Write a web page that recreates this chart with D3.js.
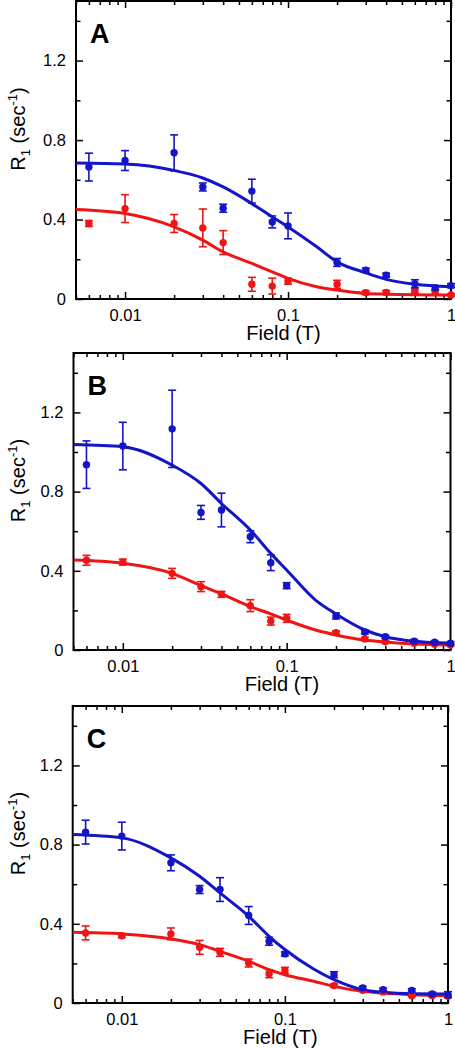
<!DOCTYPE html>
<html><head><meta charset="utf-8">
<script src="https://cdn.jsdelivr.net/npm/d3@7"></script>
<style>body{margin:0;background:#fff} text{font-family:"Liberation Sans",Arial,sans-serif}</style>
</head><body><svg id="c" width="455" height="1050"></svg>
<script>
// ---------------- data ----------------
const fields = [0.006,0.01,0.02,0.03,0.04,0.06,0.08,0.1,0.2,0.3,0.4,0.6,0.8,1];
const panelLabels = ["A","B","C"];

const blueA    = [0.664,0.697,0.736,0.564,0.457,0.543,0.388,0.368,0.184,0.145,0.12,0.077,0.057,0.067];
const blueAErr = [0.07,0.05,0.09,0.02,0.02,0.06,0.03,0.065,0.02,0.01,0.01,0.02,0.01,0.01];
const redA     = [0.38,0.455,0.38,0.358,0.284,0.074,0.065,0.09,0.074,0.032,0.033,0.04,0.033,0.02];
const redAErr  = [0.015,0.07,0.045,0.095,0.06,0.035,0.04,0.015,0.02,0.01,0.01,0.01,0.01,0.005];

const blueB    = [0.936,1.03,1.117,0.695,0.707,0.572,0.441,0.325,0.172,0.091,0.067,0.045,0.039,0.034];
const blueBErr = [0.12,0.12,0.195,0.035,0.085,0.03,0.04,0.015,0.015,0.01,0.008,0.008,0.008,0.008];
const redB     = [0.453,0.444,0.387,0.32,0.281,0.224,0.146,0.16,0.088,0.056,0.042,0.034,0.029,0.025];
const redBErr  = [0.025,0.015,0.025,0.025,0.015,0.03,0.02,0.02,0.008,0.008,0.005,0.005,0.005,0.005];

const blueC    = [0.863,0.843,0.708,0.573,0.573,0.442,0.312,0.248,0.143,0.076,0.067,0.064,0.046,0.042];
const blueCErr = [0.06,0.07,0.04,0.02,0.06,0.045,0.02,0.01,0.015,0.008,0.008,0.008,0.008,0.015];
const redC     = [0.354,0.34,0.349,0.281,0.256,0.202,0.148,0.165,0.088,0.064,0.056,0.037,0.037,0.034];
const redCErr  = [0.035,0.01,0.03,0.035,0.02,0.02,0.02,0.015,0.008,0.005,0.005,0.005,0.005,0.005];

// fitted curves
const fitX     = [0.005,0.01,0.02,0.03,0.04,0.06,0.08,0.1,0.15,0.2,0.3,0.4,0.6,1];
const fitBlueA = [0.684,0.679,0.647,0.609,0.564,0.48,0.413,0.363,0.263,0.187,0.132,0.099,0.074,0.062];
const fitRedA  = [0.45,0.43,0.363,0.296,0.237,0.179,0.137,0.104,0.062,0.045,0.028,0.024,0.021,0.02];
const fitBlueB = [1.038,1.027,0.934,0.841,0.74,0.606,0.488,0.404,0.252,0.182,0.101,0.067,0.044,0.034];
const fitRedB  = [0.454,0.438,0.387,0.325,0.283,0.219,0.182,0.151,0.101,0.076,0.05,0.04,0.03,0.025];
const fitBlueC = [0.851,0.834,0.733,0.64,0.556,0.438,0.337,0.27,0.172,0.118,0.067,0.054,0.047,0.046];
const fitRedC  = [0.357,0.349,0.324,0.295,0.261,0.211,0.169,0.143,0.11,0.084,0.059,0.05,0.042,0.037];

const xTickValues = [0.01,0.1,1];
const xTickLabels = ["0.01","0.1","1"];
const yTickValues = [0,0.4,0.8,1.2];
const yTickLabels = ["0","0.4","0.8","1.2"];
const yMinorValues = [0.2,0.6,1.0,1.4];
const xDomain = [0.005,1];
const yDomain = [0,1.5];

// ---------------- layout ----------------
const BLUE = "#1414c8", RED = "#f01414";
const panels = [
  {label: panelLabels[0], left: 76, right: 451, top: 1, bottom: 299,
   blue: blueA, blueErr: blueAErr, red: redA, redErr: redAErr, fitBlue: fitBlueA, fitRed: fitRedA},
  {label: panelLabels[1], left: 73.5, right: 450.5, top: 353, bottom: 650,
   blue: blueB, blueErr: blueBErr, red: redB, redErr: redBErr, fitBlue: fitBlueB, fitRed: fitRedB},
  {label: panelLabels[2], left: 72.7, right: 448, top: 706, bottom: 1003,
   blue: blueC, blueErr: blueCErr, red: redC, redErr: redCErr, fitBlue: fitBlueC, fitRed: fitRedC}
];

const svg = d3.select("#c");

panels.forEach((p, pi) => {
  const x = d3.scaleLog().domain(xDomain).range([p.left, p.right]);
  const y = d3.scaleLinear().domain(yDomain).range([p.bottom, p.top]);
  const g = svg.append("g");
  const w = p.right - p.left, h = p.bottom - p.top;

  const minorX = x.ticks().filter(v => !xTickValues.some(t => Math.abs(t - v) < 1e-9));

  function axis(gen, vals, size, fmt, tf) {
    const a = g.append("g").attr("transform", tf)
      .call(gen.tickValues(vals).tickSize(size).tickPadding(6).tickFormat(fmt));
    a.select(".domain").remove();
    a.selectAll("line").attr("stroke", "#000").attr("stroke-width", 1.5);
    return a;
  }
  // bottom
  const bx = axis(d3.axisBottom(x), xTickValues, -7, (d, i) => xTickLabels[i], `translate(0,${p.bottom})`);
  bx.selectAll("text").attr("font-size", 16.5).attr("fill", "#000").attr("dy", "0").attr("y", 22)
    .attr("font-family", '"Liberation Sans",Arial,sans-serif');
  axis(d3.axisBottom(x), minorX, -4, "", `translate(0,${p.bottom})`).selectAll("text").remove();
  // top
  axis(d3.axisTop(x), xTickValues, -7, "", `translate(0,${p.top})`).selectAll("text").remove();
  axis(d3.axisTop(x), minorX, -4, "", `translate(0,${p.top})`).selectAll("text").remove();
  // left
  const ly = axis(d3.axisLeft(y), yTickValues, -7, (d, i) => yTickLabels[i], `translate(${p.left},0)`);
  ly.selectAll("text").attr("font-size", 16.5).attr("fill", "#000").attr("x", -10)
    .attr("font-family", '"Liberation Sans",Arial,sans-serif');
  axis(d3.axisLeft(y), yMinorValues, -4.5, "", `translate(${p.left},0)`).selectAll("text").remove();
  // right
  axis(d3.axisRight(y), yTickValues, -7, "", `translate(${p.right},0)`).selectAll("text").remove();
  axis(d3.axisRight(y), yMinorValues, -4.5, "", `translate(${p.right},0)`).selectAll("text").remove();

  // frame
  g.append("rect").attr("x", p.left).attr("y", p.top).attr("width", w).attr("height", h)
    .attr("fill", "none").attr("stroke", "#000").attr("stroke-width", 2);

  // clip
  const cid = "clip" + pi;
  svg.append("clipPath").attr("id", cid).append("rect")
    .attr("x", p.left).attr("y", p.top).attr("width", w).attr("height", h);

  const line = d3.line().x(d => x(d[0])).y(d => y(d[1])).curve(d3.curveMonotoneX);
  const plot = g.append("g").attr("clip-path", `url(#${cid})`);

  [[p.fitRed, RED], [p.fitBlue, BLUE]].forEach(([vals, col]) => {
    plot.append("path").datum(fitX.map((f, i) => [f, vals[i]]))
      .attr("d", line).attr("fill", "none").attr("stroke", col).attr("stroke-width", 3);
  });

  const pts = g.append("g");
  [[p.red, p.redErr, RED], [p.blue, p.blueErr, BLUE]].forEach(([vals, errs, col]) => {
    const sg = pts.append("g");
    fields.forEach((f, i) => {
      const cx = x(f), v = vals[i], e = errs[i];
      const y1 = y(v + e), y2 = y(v - e);
      sg.append("line").attr("x1", cx).attr("x2", cx).attr("y1", y1).attr("y2", y2)
        .attr("stroke", col).attr("stroke-width", 1.6);
      [y1, y2].forEach(yy => sg.append("line").attr("x1", cx - 4).attr("x2", cx + 4)
        .attr("y1", yy).attr("y2", yy).attr("stroke", col).attr("stroke-width", 1.6));
      sg.append("circle").attr("cx", cx).attr("cy", y(v)).attr("r", 3.7).attr("fill", col);
    });
  });

  // panel letter
  g.append("text").attr("x", p.left + 14).attr("y", p.top + 42)
    .attr("font-size", 27).attr("font-weight", "bold").text(p.label);

  // x axis title
  g.append("text").attr("x", (p.left + p.right) / 2 + 20).attr("y", p.bottom + 41)
    .attr("text-anchor", "middle").attr("font-size", 20).text("Field (T)");

  // y axis title
  const yt = g.append("text")
    .attr("transform", `translate(25,${(p.top + p.bottom) / 2 - 21}) rotate(-90)`)
    .attr("text-anchor", "middle").attr("font-size", 20);
  yt.append("tspan").text("R");
  yt.append("tspan").attr("font-size", 13).attr("dy", 5).text("1");
  yt.append("tspan").attr("dy", -5).text(" (sec");
  yt.append("tspan").attr("font-size", 13).attr("dy", -8).text("-1");
  yt.append("tspan").attr("dy", 8).text(")");
});
</script></body></html>
